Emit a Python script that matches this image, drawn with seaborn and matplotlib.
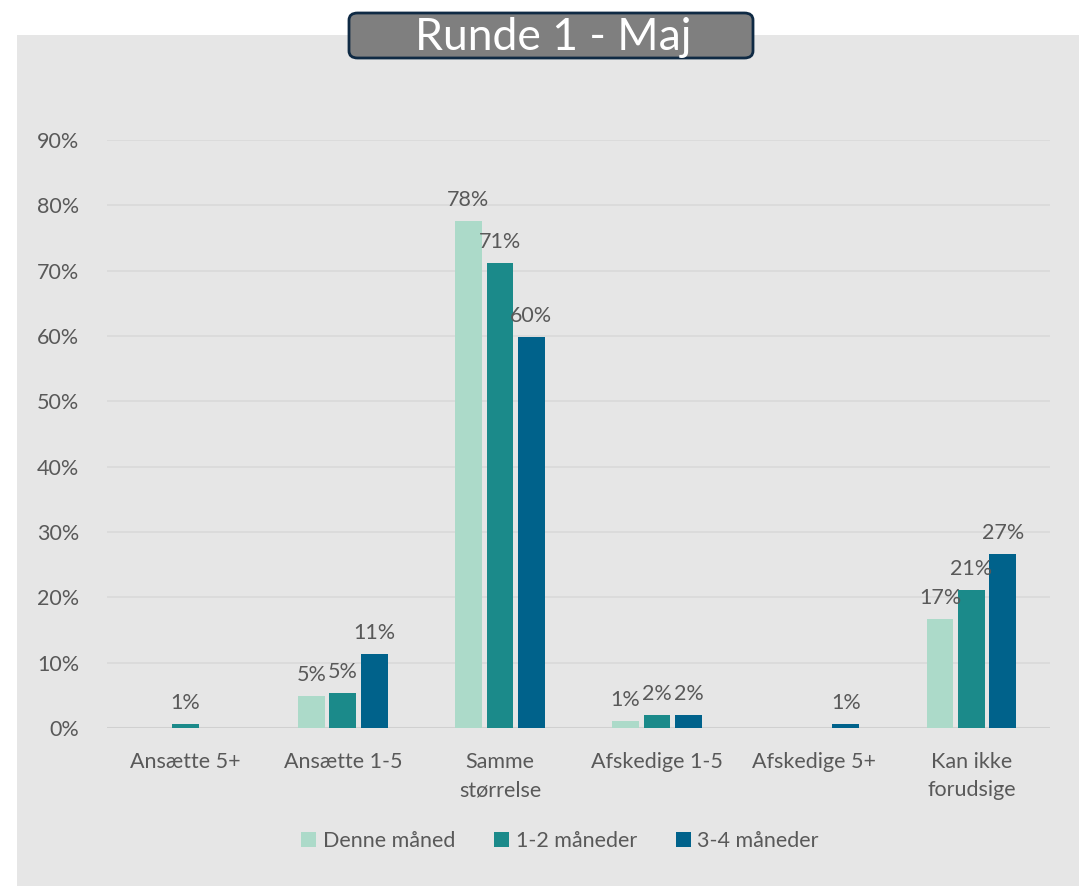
import numpy as np
import pandas as pd
import matplotlib.pyplot as plt
import seaborn as sns
from matplotlib.patches import Rectangle, FancyBboxPatch

# -------------------- data --------------------
categories = ["Ansætte 5+", "Ansætte 1-5", "Samme\nstørrelse",
              "Afskedige 1-5", "Afskedige 5+", "Kan ikke\nforudsige"]
series = ["Denne måned", "1-2 måneder", "3-4 måneder"]
denne_maaned = [0.0, 4.9, 77.6, 1.0, 0.0, 16.7]
en_to_maaneder = [0.6, 5.4, 71.1, 2.0, 0.0, 21.1]
tre_fire_maaneder = [0.0, 11.3, 59.8, 2.0, 0.6, 26.6]
yticks = [0, 10, 20, 30, 40, 50, 60, 70, 80, 90]
colors = ["#acdac9", "#1b8a8a", "#00628b"]
title = "Runde 1 - Maj"

df = pd.DataFrame({
    "kategori": categories * 3,
    "serie": [s for s in series for _ in categories],
    "værdi": denne_maaned + en_to_maaneder + tre_fire_maaneder,
})

# -------------------- style --------------------
sns.set_theme(style="white")
plt.rcParams['font.family'] = ['Lato', 'DejaVu Sans']
txt = "#595959"
bg = "#e6e6e6"
fs = 15.5

fig = plt.figure(figsize=(10.79, 8.86), dpi=100)
fig.patch.set_facecolor("white")
# grey chart panel (behind the axes)
fig.patches.append(Rectangle((17 / 1079, 0), 1 - 17 / 1079, 1 - 35 / 886,
                             transform=fig.transFigure, facecolor=bg,
                             edgecolor="none", zorder=-5))

ax = fig.add_axes([107 / 1079, 1 - 728 / 886, 943 / 1079, (728 - 140) / 886])
ax.patch.set_alpha(0)

sns.barplot(data=df, x="kategori", y="værdi", hue="serie", order=categories,
            hue_order=series, palette=colors, width=0.6, gap=0.15,
            saturation=1, linewidth=0, ax=ax, zorder=3)

for cont in ax.containers:
    labels = [f"{v:.0f}%" if v > 0 else "" for v in cont.datavalues]
    ax.bar_label(cont, labels=labels, padding=8, fontsize=fs, color=txt)

ax.set_ylim(0, 90)
ax.set_xlim(-0.5, 5.5)
ax.set_yticks(yticks)
ax.set_yticklabels([f"{t}%" for t in yticks], fontsize=fs, color=txt)
ax.tick_params(axis="y", length=0, pad=20)
ax.tick_params(axis="x", length=0, pad=17, labelsize=fs, labelcolor=txt)
for lbl in ax.get_xticklabels():
    lbl.set_linespacing(1.55)
ax.yaxis.grid(True, color="#d9d9d9", linewidth=1.2, zorder=0)
ax.set_axisbelow(True)
ax.axhline(0, color="#d0d0d0", linewidth=1.5, zorder=2)
sns.despine(ax=ax, left=True, bottom=True)
ax.set_xlabel("")
ax.set_ylabel("")

handles, labs = ax.get_legend_handles_labels()
ax.legend(handles, labs, loc="center", bbox_to_anchor=(560 / 1079, 1 - 841 / 886),
          bbox_transform=fig.transFigure, ncol=3, frameon=False, fontsize=fs,
          labelcolor=txt, handlelength=0.7, handleheight=0.7, handletextpad=0.3,
          columnspacing=1.8)

# title box
fig.patches.append(FancyBboxPatch((349 / 1079, 1 - 58 / 886), 404 / 1079, 45 / 886,
                                  boxstyle="round,pad=0,rounding_size=0.008",
                                  transform=fig.transFigure, facecolor="#7f7f7f",
                                  edgecolor="#0f2a44", linewidth=2, zorder=5))
fig.text(553 / 1079, 1 - 37 / 886, title, ha="center", va="center",
         fontsize=32, color="white", zorder=6)

fig.savefig("out.png", dpi=100)
